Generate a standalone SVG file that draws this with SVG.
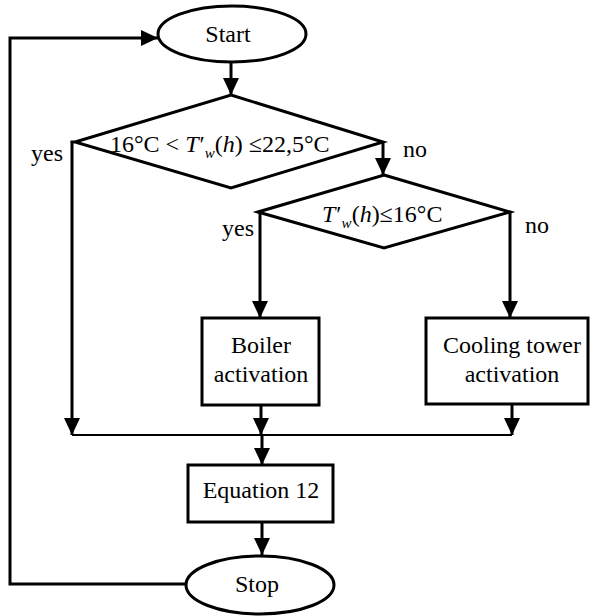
<svg xmlns="http://www.w3.org/2000/svg" width="594" height="616" viewBox="0 0 594 616">
<style>
.sh{fill:#fff;stroke:#000;stroke-width:3}
.cn{fill:none;stroke:#000;stroke-width:3}
.thin{fill:none;stroke:#000;stroke-width:2}
text{font-family:"Liberation Serif","Times New Roman",serif;font-size:24px;fill:#000}
.c{text-anchor:middle}
.i{font-style:italic}
</style>
<defs>
<marker id="ah" markerUnits="userSpaceOnUse" markerWidth="17" markerHeight="16" refX="17" refY="8" orient="auto">
<path d="M0,0 L17,8 L0,16 z" fill="#000"/>
</marker>
</defs>
<rect width="594" height="616" fill="#fff"/>
<g id="connectors">
<path class="cn" d="M186,584 H10 V38 H158" marker-end="url(#ah)"/>
<path class="cn" d="M231,62 V95" marker-end="url(#ah)"/>
<path class="cn" d="M74,142 H72 V435" marker-end="url(#ah)"/>
<path class="cn" d="M383,142 V175" marker-end="url(#ah)"/>
<path class="cn" d="M260,212 V318" marker-end="url(#ah)"/>
<path class="cn" d="M510,212 V318" marker-end="url(#ah)"/>
<path class="cn" d="M261,405 V435" marker-end="url(#ah)"/>
<path class="cn" d="M512,405 V435" marker-end="url(#ah)"/>
<path class="thin" d="M72,435 H512"/>
<path class="cn" d="M262,435 V465" marker-end="url(#ah)"/>
<path class="cn" d="M262,522 V555" marker-end="url(#ah)"/>
<text x="31" y="161">yes</text>
<text x="403" y="157">no</text>
<text x="222" y="236">yes</text>
<text x="525" y="233">no</text>
</g>
<g id="start">
<ellipse class="sh" cx="232" cy="34" rx="74" ry="28"/>
<text class="c" x="228" y="42">Start</text>
</g>
<g id="decision1">
<polygon class="sh" points="231,95 383,142 231,188 75,142"/>
<text x="110" y="152">16°C &lt; <tspan class="i">T</tspan><tspan dx="1">′</tspan><tspan class="i" font-size="15" dy="6">w</tspan><tspan dy="-6">(</tspan><tspan class="i">h</tspan>) ≤22,5°C</text>
</g>
<g id="decision2">
<polygon class="sh" points="384,175 510,212 384,248 258,212"/>
<text x="322" y="222"><tspan class="i">T</tspan><tspan dx="1">′</tspan><tspan class="i" font-size="15" dy="6">w</tspan><tspan dy="-6">(</tspan><tspan class="i">h</tspan>)≤16°C</text>
</g>
<g id="boiler">
<rect class="sh" x="202" y="318" width="117" height="87"/>
<text class="c" x="261" y="353">Boiler</text>
<text class="c" x="261" y="382">activation</text>
</g>
<g id="cooling">
<rect class="sh" x="426" y="318" width="162" height="86"/>
<text class="c" x="512" y="353">Cooling tower</text>
<text class="c" x="512" y="382">activation</text>
</g>
<g id="equation">
<rect class="sh" x="188" y="465" width="145" height="57"/>
<text class="c" x="261" y="498">Equation 12</text>
</g>
<g id="stop">
<ellipse class="sh" cx="260" cy="585" rx="74" ry="29"/>
<text class="c" x="257" y="592">Stop</text>
</g>
</svg>
